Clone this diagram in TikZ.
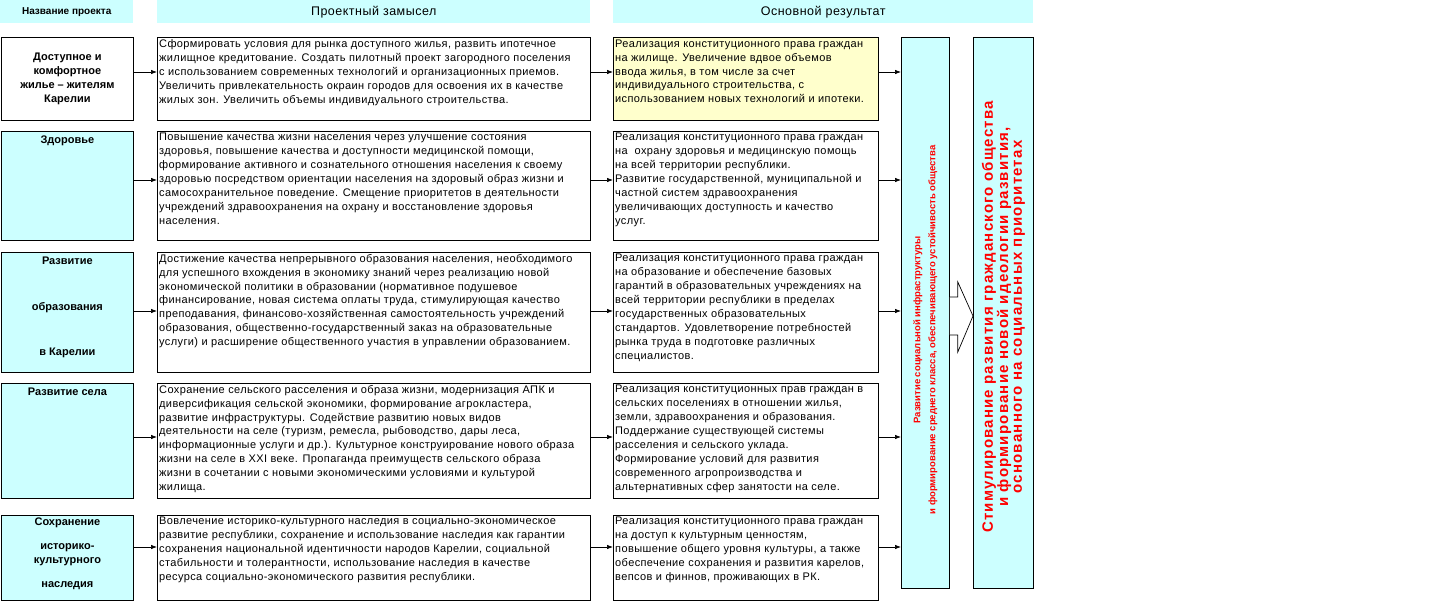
\documentclass[tikz,border=0pt]{standalone}
\usepackage{fontspec}
\setmainfont{Liberation Sans}
\usetikzlibrary{arrows.meta,calc}
\definecolor{lcyan}{HTML}{CCFFFF}
\definecolor{lyel}{HTML}{FFFFCC}
\definecolor{tred}{HTML}{FF0000}
\begin{document}
\begin{tikzpicture}[x=1pt,y=-1pt,
  hdr/.style={fill=lcyan, draw=none, minimum height=23pt, inner sep=0pt, anchor=north west, font=\fontsize{12.5}{14}\selectfont\addfontfeatures{LetterSpace=4}},
  box/.style={draw=black, line width=0.8pt, inner sep=0pt, anchor=north west},
  btext/.style={anchor=north west, inner sep=0pt, align=left, font=\fontsize{11}{13.9}\selectfont\addfontfeatures{LetterSpace=3.5}},
  ntext/.style={inner sep=0pt, align=center, font=\bfseries\fontsize{11}{14}\selectfont},
  arr/.style={-{Latex[length=6pt,width=4.5pt]}, line width=0.7pt}]
\useasboundingbox (0,0) rectangle (1430,602);
\fill[white] (0,0) rectangle (1430,602);
% headers
\node[hdr, minimum width=133pt, font=\bfseries\fontsize{10}{12}\selectfont] (h1) at (0,0) {Название проекта};
\node[hdr, minimum width=433pt] (h2) at (157,0) {Проектный замысел};
\node[hdr, minimum width=420pt] (h3) at (613,0) {Основной результат};
% vertical boxes
\node[box, fill=lcyan, minimum width=48pt, minimum height=551pt] (v1) at (901,37) {};
\node[box, fill=lcyan, minimum width=60pt, minimum height=551pt] (v2) at (973,37) {};
\node[rotate=90, text=tred, align=center, font=\bfseries\fontsize{9.5}{15}\selectfont] (vt1) at (v1.center |- 0,330) {Развитие социальной инфраструктуры\\и формирование среднего класса, обеспечивающего устойчивость общества};
\node[rotate=90, text=tred, align=center, font=\bfseries\fontsize{15}{13.8}\selectfont\addfontfeatures{LetterSpace=8}] (vt2) at (v2.center |- 0,317) {Стимулирование развития гражданского общества\\и формирование новой идеологии развития,\\основанного на социальных приоритетах};
% block arrow
\filldraw[fill=white, draw=black, line width=0.7pt]
  (v1.east |- 0,297) -- ([xshift=8pt]v1.east |- 0,297) -- ([xshift=8pt]v1.east |- 0,282)
  -- (v2.west |- 0,316) -- ([xshift=8pt]v1.east |- 0,352) -- ([xshift=8pt]v1.east |- 0,335) -- (v1.east |- 0,335);
% row coordinates
\coordinate (y1) at (0,72);
\coordinate (y2) at (0,180);
\coordinate (y3) at (0,311);
\coordinate (y4) at (0,437);
\coordinate (y5) at (0,547);
% Row 1
\node[box, fill=white, minimum width=132pt, minimum height=83pt] (n1) at (1,37) {};
\node[ntext] (nt1) at (n1.center) {Доступное и\\комфортное\\жилье – жителям\\Карелии};
\node[box, fill=white, minimum width=433pt, minimum height=83pt] (i1) at (157,37) {};
\node[btext] (it1) at ([xshift=2pt,yshift=-2.5pt]i1.north west) {Сформировать условия для рынка доступного жилья, развить ипотечное\\жилищное кредитование. Создать пилотный проект загородного поселения\\с использованием современных технологий и организационных приемов.\\Увеличить привлекательность окраин городов для освоения их в качестве\\жилых зон. Увеличить объемы индивидуального строительства.};
\node[box, fill=lyel, minimum width=265pt, minimum height=83pt] (r1) at (613,37) {};
\node[btext] (rt1) at ([xshift=2pt,yshift=-2.5pt]r1.north west) {Реализация конституционного права граждан\\на жилище. Увеличение вдвое объемов\\ввода жилья, в том числе за счет\\индивидуального строительства, с\\использованием новых технологий и ипотеки.};
% Row 2
\node[box, fill=lcyan, minimum width=132pt, minimum height=109pt] (n2) at (1,131) {};
\node[ntext, anchor=north] (nt2) at ([yshift=-5pt]n2.north) {Здоровье};
\node[box, fill=white, minimum width=433pt, minimum height=109pt] (i2) at (157,131) {};
\node[btext] (it2) at ([xshift=2pt,yshift=-2pt]i2.north west) {Повышение качества жизни населения через улучшение состояния\\здоровья, повышение качества и доступности медицинской помощи,\\формирование активного и сознательного отношения населения к своему\\здоровью посредством ориентации населения на здоровый образ жизни и\\самосохранительное поведение. Смещение приоритетов в деятельности\\учреждений здравоохранения на охрану и восстановление здоровья\\населения.};
\node[box, fill=white, minimum width=265pt, minimum height=109pt] (r2) at (613,131) {};
\node[btext] (rt2) at ([xshift=2pt,yshift=-2pt]r2.north west) {Реализация конституционного права граждан\\на \ охрану здоровья и медицинскую помощь\\на всей территории республики.\\Развитие государственной, муниципальной и\\частной систем здравоохранения\\увеличивающих доступность и качество\\услуг.};
% Row 3
\node[box, fill=lcyan, minimum width=132pt, minimum height=120pt] (n3) at (1,252) {};
\node[ntext, anchor=north] (nt3) at ([yshift=-5pt]n3.north) {Развитие\\[32pt]образования\\[31pt]в Карелии};
\node[box, fill=white, minimum width=433pt, minimum height=120pt] (i3) at (157,252) {};
\node[btext] (it3) at ([xshift=2pt,yshift=-2pt]i3.north west) {Достижение качества непрерывного образования населения, необходимого\\для успешного вхождения в экономику знаний через реализацию новой\\экономической политики в образовании (нормативное подушевое\\финансирование, новая система оплаты труда, стимулирующая качество\\преподавания, финансово-хозяйственная самостоятельность учреждений\\образования, общественно-государственный заказ на образовательные\\услуги) и расширение общественного участия в управлении образованием.};
\node[box, fill=white, minimum width=265pt, minimum height=120pt] (r3) at (613,252) {};
\node[btext] (rt3) at ([xshift=2pt,yshift=-2pt]r3.north west) {Реализация конституционного права граждан\\на образование и обеспечение базовых\\гарантий в образовательных учреждениях на\\всей территории республики в пределах\\государственных образовательных\\стандартов. Удовлетворение потребностей\\рынка труда в подготовке различных\\специалистов.};
% Row 4
\node[box, fill=lcyan, minimum width=132pt, minimum height=115pt] (n4) at (1,383) {};
\node[ntext, anchor=north] (nt4) at ([yshift=-5pt]n4.north) {Развитие села};
\node[box, fill=white, minimum width=433pt, minimum height=115pt] (i4) at (157,383) {};
\node[btext] (it4) at ([xshift=2pt,yshift=-2pt]i4.north west) {Сохранение сельского расселения и образа жизни, модернизация АПК и\\диверсификация сельской экономики, формирование агрокластера,\\развитие инфраструктуры. Содействие развитию новых видов\\деятельности на селе (туризм, ремесла, рыбоводство, дары леса,\\информационные услуги и др.). Культурное конструирование нового образа\\жизни на селе в XXI веке. Пропаганда преимуществ сельского образа\\жизни в сочетании с новыми экономическими условиями и культурой\\жилища.};
\node[box, fill=white, minimum width=265pt, minimum height=115pt] (r4) at (613,383) {};
\node[btext] (rt4) at ([xshift=2pt,yshift=-2pt]r4.north west) {Реализация конституционных прав граждан в\\сельских поселениях в отношении жилья,\\земли, здравоохранения и образования.\\Поддержание существующей системы\\расселения и сельского уклада.\\Формирование условий для развития\\современного агропроизводства и\\альтернативных сфер занятости на селе.};
% Row 5
\node[box, fill=lcyan, minimum width=132pt, minimum height=85pt] (n5) at (1,515) {};
\node[ntext, anchor=north] (nt5) at ([yshift=-3pt]n5.north) {Сохранение\\[10pt]историко-\\культурного\\[10pt]наследия};
\node[box, fill=white, minimum width=433pt, minimum height=85pt] (i5) at (157,515) {};
\node[btext] (it5) at ([xshift=2pt,yshift=-2pt]i5.north west) {Вовлечение историко-культурного наследия в социально-экономическое\\развитие республики, сохранение и использование наследия как гарантии\\сохранения национальной идентичности народов Карелии, социальной\\стабильности и толерантности, использование наследия в качестве\\ресурса социально-экономического развития республики.};
\node[box, fill=white, minimum width=265pt, minimum height=85pt] (r5) at (613,515) {};
\node[btext] (rt5) at ([xshift=2pt,yshift=-2pt]r5.north west) {Реализация конституционного права граждан\\на доступ к культурным ценностям,\\повышение общего уровня культуры, а также\\обеспечение сохранения и развития карелов,\\вепсов и финнов, проживающих в РК.};
% connectors
\foreach \k in {1,...,5}{
  \draw[arr] (n\k.east |- y\k) -- (i\k.west |- y\k);
  \draw[arr] (i\k.east |- y\k) -- (r\k.west |- y\k);
  \draw[arr] (r\k.east |- y\k) -- (v1.west |- y\k);
}
\end{tikzpicture}
\end{document}
